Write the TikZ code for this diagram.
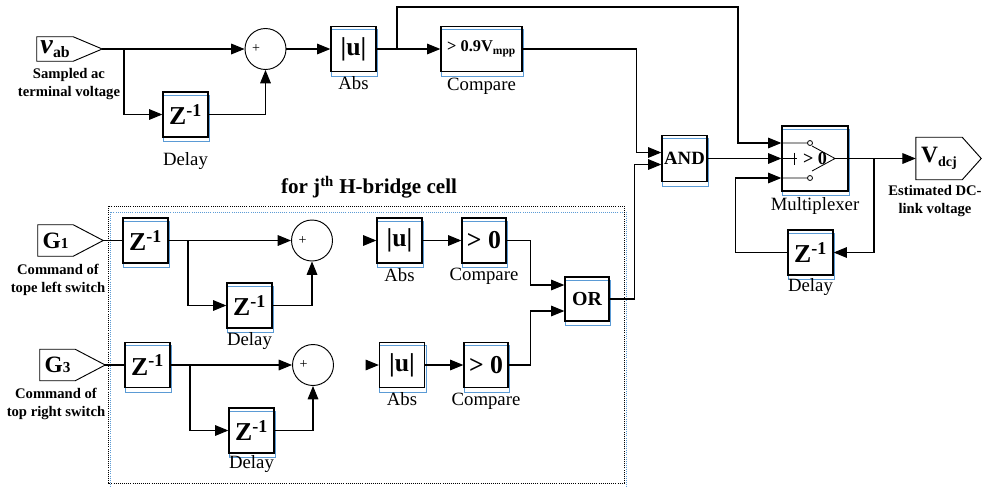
\documentclass[tikz,border=0pt]{standalone}
\usepackage{fontspec}
\setmainfont{Liberation Serif}
\usepackage{tikz}
\usetikzlibrary{arrows.meta,positioning,backgrounds}
\definecolor{ink}{HTML}{000000}
\definecolor{shade}{HTML}{5B9BD5}

\newcommand{\zinv}{Z\textsuperscript{-1}}

\begin{document}
\begin{tikzpicture}[
  x=0.3mm, y=-0.3mm,
  every node/.style={font=\fontsize{16}{18}\selectfont},
  block/.style={rectangle, draw=ink, line width=1.1pt, minimum width=13.5mm, minimum height=13.5mm, inner sep=0pt, font=\bfseries\fontsize{22}{22}\selectfont},
  sumnode/.style={circle, draw=ink, line width=0.8pt, minimum size=12.3mm, inner sep=0pt, font=\fontsize{12}{12}\selectfont},
  port/.style={rectangle, inner sep=0pt, font=\bfseries},
  portline/.style={draw=ink, line width=0.8pt},
  arrow/.style={-{Triangle[length=4mm,width=3.2mm]}, line width=0.9pt, draw=ink},
  wire/.style={line width=0.9pt, draw=ink},
  lbl/.style={inner sep=0pt, text height=10.9pt, text depth=3.5pt},
  note/.style={font=\bfseries\fontsize{12.5}{15.4}\selectfont, align=center, inner sep=0pt},
  blueedge/.style={draw=shade, line width=0.8pt}
]
\useasboundingbox (0,0) rectangle (991,486);

% sampled voltage path
\node[port, minimum width=10.8mm, minimum height=7.2mm] (vab) at (55,49) {\fontsize{24}{24}\selectfont\textit{v}\raisebox{-3pt}{\fontsize{13.5}{13.5}\selectfont ab}};
\draw[portline] (vab.north west) -- (vab.north east) -- ([xshift=8.7mm]vab.east) coordinate (vabtip) -- (vab.south east) -- (vab.south west) -- cycle;
\node[note, below=2mm of vab, xshift=4.2mm] (vabnote) {Sampled ac\\terminal voltage};
\node[block] (za) at (185.5,114.5) {\zinv};
\node[lbl, below=4.4mm of za] (zalbl) {Delay};
\node[sumnode] (suma) at (265.5,49) {\hbox to 8mm{+\hfil}};
\node[block] (absa) at (353.5,49) {|u|};
\node[lbl, below=1.2mm of absa] (absalbl) {Abs};
\node[block, minimum width=24.3mm, font=\bfseries\fontsize{14}{14}\selectfont] (cmpa) at (481.5,49) {> 0.9V\textsubscript{mpp}};
\node[lbl, below=1.5mm of cmpa] (cmpalbl) {Compare};

% logic and output
\node[block, minimum height=13.8mm, font=\bfseries\fontsize{16}{16}\selectfont] (andg) at (684.5,158.5) {AND};
\node[block, minimum width=19.8mm, minimum height=19.5mm, font=\bfseries\fontsize{15.5}{15.5}\selectfont] (mux) at (815,158.5) {> 0\hspace{1.5mm}};
\node[lbl, below=1.7mm of mux] (muxlbl) {Multiplexer};
\node[port, minimum width=13.8mm, minimum height=12.6mm] (vdc) at (939,158.5) {\fontsize{20}{20}\selectfont V\raisebox{-3pt}{\fontsize{12}{12}\selectfont dcj}};
\draw[portline] (vdc.north west) -- (vdc.north east) -- ([xshift=5.7mm]vdc.east) -- (vdc.south east) -- (vdc.south west) -- cycle;
\node[note, below=1.5mm of vdc, xshift=-1.2mm] (vdcnote) {Estimated DC-\\link voltage};
\node[block] (zm) at (810.5,252.5) {\zinv};
\node[lbl, below=1mm of zm] (zmlbl) {Delay};

\coordinate (andin1) at ([yshift=1.8mm]andg.west);
\coordinate (andin2) at ([yshift=-1.8mm]andg.west);
\coordinate (muxin1) at ([yshift=4.65mm]mux.west);
\coordinate (muxin2) at (mux.west);
\coordinate (muxin3) at ([yshift=-5.85mm]mux.west);

% H-bridge cell
\node[font=\bfseries\fontsize{18}{18}\selectfont, inner sep=0pt] (celltitle) at (369,187) {for j\textsuperscript{th} H-bridge cell};
\draw[densely dotted, line width=0.8pt, draw=ink] (108,206) rectangle (624,483);

\node[port, minimum width=10.5mm, minimum height=9.3mm] (g1) at (55.5,240.5) {\fontsize{20}{20}\selectfont G{\fontsize{13}{13}\selectfont 1}};
\draw[portline] (g1.north west) -- (g1.north east) -- ([xshift=9mm]g1.east) coordinate (g1tip) -- (g1.south east) -- (g1.south west) -- cycle;
\node[note, below=2.2mm of g1, xshift=0.75mm] (g1note) {Command of\\tope left switch};
\node[block] (z1) at (145.5,240.5) {\zinv};
\node[block] (zd1) at (249.5,305.5) {\zinv};
\node[lbl, below=1.1mm of zd1] (zd1lbl) {Delay};
\node[sumnode] (sum1) at (312,240.5) {\hbox to 8mm{+\hfil}};
\node[block] (abs1) at (399.5,240.5) {|u|};
\node[lbl, below=1.5mm of abs1] (abs1lbl) {Abs};
\node[block, minimum width=13.2mm] (cmp1) at (484,240.5) {> 0};
\node[lbl, below=1.3mm of cmp1] (cmp1lbl) {Compare};
\node[block, minimum width=13.2mm, minimum height=13.2mm, font=\bfseries\fontsize{17}{17}\selectfont] (org) at (587,299) {OR};

\node[port, minimum width=10.5mm, minimum height=9.3mm] (g3) at (57.5,365) {\fontsize{20}{20}\selectfont G{\fontsize{13}{13}\selectfont 3}};
\draw[portline] (g3.north west) -- (g3.north east) -- ([xshift=9mm]g3.east) coordinate (g3tip) -- (g3.south east) -- (g3.south west) -- cycle;
\node[note, below=2.3mm of g3, xshift=-0.45mm] (g3note) {Command of\\top right switch};
\node[block] (z3) at (147.5,365) {\zinv};
\node[block] (zd3) at (251.5,430.5) {\zinv};
\node[lbl, below=0.5mm of zd3] (zd3lbl) {Delay};
\node[sumnode] (sum3) at (313,365) {\hbox to 8mm{+\hfil}};
\node[block] (abs3) at (402,365) {|u|};
\node[lbl, below=1.4mm of abs3] (abs3lbl) {Abs};
\node[block, minimum width=13.2mm] (cmp3) at (486,365) {> 0};
\node[lbl, below=1.4mm of cmp3] (cmp3lbl) {Compare};

\coordinate (orin1) at ([yshift=4.2mm]org.west);
\coordinate (orin2) at ([yshift=-3.6mm]org.west);

% blue block edges
\begin{scope}[on background layer]
\foreach \b in {za,absa,cmpa,andg,mux,zm,z1,zd1,abs1,cmp1,org,z3,zd3,abs3,cmp3}
  \draw[blueedge] ([xshift=0.3mm,yshift=-1.2mm]\b.south west) rectangle ([xshift=0.3mm,yshift=-1.2mm]\b.north east);
\draw[densely dotted, blueedge] (110,212) rectangle (626,489);
\end{scope}

% top connectors
\coordinate (splita) at (124,49);
\coordinate (splitb) at (397,49);
\coordinate (splitc) at (874,158.5);
\draw[arrow] (vabtip) -- (suma.west);
\draw[arrow] (splita) |- (za.west);
\draw[arrow] (za.east) -| (suma.south);
\draw[arrow] (suma.east) -- (absa.west);
\draw[arrow] (absa.east) -- (cmpa.west);
\draw[arrow] (splitb) |- (738,7) |- (muxin1);
\draw[arrow] (cmpa.east) -| ([xshift=-7.5mm]andin1) -- (andin1);
\draw[arrow] (org.east) -| ([xshift=-8.1mm]andin2) -- (andin2);
\draw[arrow] (andg.east) -- (muxin2);
\draw[arrow] (mux.east) -- (vdc.west);
\draw[arrow] (splitc) |- (zm.east);
\draw[arrow] (zm.west) -| ([xshift=-13.8mm]muxin3) -- (muxin3);

% multiplexer symbol
\draw[wire, line width=0.7pt] (muxin1) -- (807.5,143) (muxin3) -- (807.5,178);
\draw[wire, line width=0.7pt] (810,143) circle[radius=0.75mm] (810,178) circle[radius=0.75mm];
\draw[wire, line width=0.7pt] (muxin2) -- (797,158.5) (794,152.5) -- (794,164.5);
\draw[wire, line width=0.7pt] (812,146) -- (835,158.5) -- (812,171) (835,158.5) -- (mux.east);

% cell connectors
\coordinate (split1) at (188,240.5);
\coordinate (split3) at (190,365);
\draw[wire] (g1tip) -- (z1.west);
\draw[arrow] (z1.east) -- (sum1.west);
\draw[arrow] (split1) |- (zd1.west);
\draw[arrow] (zd1.east) -| (sum1.south);
\draw[arrow] ([xshift=-4mm]abs1.west) coordinate (gap1) -- (abs1.west);
\draw[arrow] (abs1.east) -- (cmp1.west);
\draw[arrow] (cmp1.east) -| ([xshift=-10.2mm]orin1) -- (orin1);
\draw[wire] (g3tip) -- (z3.west);
\draw[arrow] (z3.east) -- (sum3.west);
\draw[arrow] (split3) |- (zd3.west);
\draw[arrow] (zd3.east) -| (sum3.south);
\draw[arrow] ([xshift=-4mm]abs3.west) coordinate (gap3) -- (abs3.west);
\draw[arrow] (abs3.east) -- (cmp3.west);
\draw[arrow] (cmp3.east) -| ([xshift=-10.2mm]orin2) -- (orin2);
\end{tikzpicture}
\end{document}
